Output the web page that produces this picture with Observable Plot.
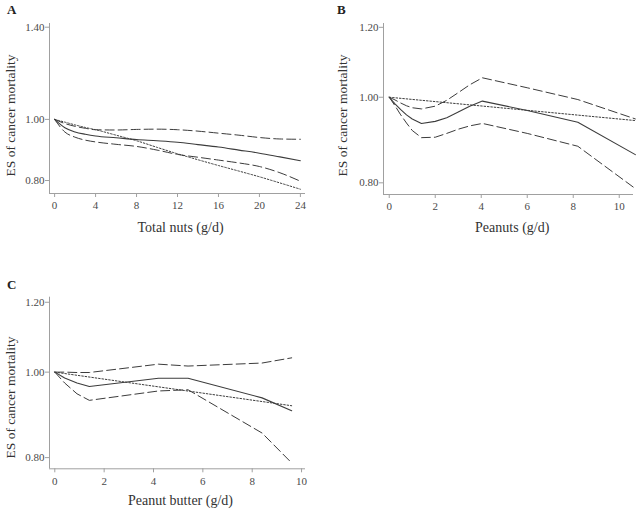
<!DOCTYPE html>
<html>
<head>
<meta charset="utf-8">
<script src="https://cdn.jsdelivr.net/npm/d3@7"></script>
<script src="https://cdn.jsdelivr.net/npm/@observablehq/plot@0.6"></script>
<style>
  html, body { margin: 0; padding: 0; background: #fff; }
  #fig { position: relative; width: 642px; height: 514px; font-family: "Liberation Serif", "Times New Roman", serif; }
  .panel { position: absolute; }
  .tag { position: absolute; font-weight: bold; font-size: 13px; color: #222; line-height: 1; }
</style>
</head>
<body>
<div id="fig"></div>
<script>
// ---------- Panel A: Total nuts ----------
const nutsX      = [0, 1, 2, 3, 4, 6, 8, 10, 12, 14, 16, 18, 20, 22, 24];
const nutsES     = [1.000, 0.970, 0.955, 0.947, 0.941, 0.935, 0.929, 0.925, 0.920, 0.912, 0.904, 0.894, 0.884, 0.872, 0.860];
const nutsUpper  = [1.000, 0.985, 0.975, 0.968, 0.963, 0.962, 0.964, 0.965, 0.963, 0.958, 0.951, 0.944, 0.936, 0.931, 0.930];
const nutsLower  = [1.000, 0.955, 0.937, 0.927, 0.921, 0.913, 0.906, 0.894, 0.880, 0.871, 0.862, 0.853, 0.842, 0.823, 0.798];
const nutsLinear = [1.000, 0.990, 0.980, 0.971, 0.963, 0.944, 0.925, 0.903, 0.882, 0.863, 0.845, 0.828, 0.811, 0.793, 0.775];
const nutsXTicks = [0, 4, 8, 12, 16, 20, 24];
const nutsYTicks = [0.80, 1.00, 1.40];

// ---------- Panel B: Peanuts ----------
const peanutX     = [0, 0.25, 0.5, 0.75, 1, 1.4, 2, 2.5, 3, 3.5, 4.05, 6, 8.2, 10.7];
const peanutES    = [1.000, 0.983, 0.968, 0.955, 0.945, 0.934, 0.939, 0.948, 0.962, 0.977, 0.990, 0.966, 0.937, 0.861];
const peanutUpper = [1.000, 0.993, 0.985, 0.978, 0.973, 0.970, 0.977, 0.992, 1.012, 1.033, 1.052, 1.025, 0.994, 0.945];
const peanutLower = [1.000, 0.978, 0.955, 0.935, 0.917, 0.900, 0.901, 0.910, 0.920, 0.928, 0.934, 0.910, 0.880, 0.788];
const peanutLinX  = [0, 10.7];
const peanutLin   = [1.000, 0.941];
const peanutXTicks = [0, 2, 4, 6, 8, 10];
const peanutYTicks = [0.80, 1.00, 1.20];

// ---------- Panel C: Peanut butter ----------
const butterX     = [0, 0.4, 0.9, 1.4, 4.2, 5.4, 8.4, 9.6];
const butterES    = [1.000, 0.985, 0.972, 0.963, 0.984, 0.984, 0.935, 0.904];
const butterUpper = [1.000, 1.000, 0.999, 0.999, 1.021, 1.016, 1.024, 1.038];
const butterLower = [1.000, 0.972, 0.945, 0.929, 0.952, 0.955, 0.853, 0.789];
const butterLinX  = [0, 9.6];
const butterLin   = [1.000, 0.916];
const butterXTicks = [0, 2, 4, 6, 8, 10];
const butterYTicks = [0.80, 1.00, 1.20];

const labels = {
  yLabel: "ES of cancer mortality",
  A: "Total nuts (g/d)",
  B: "Peanuts (g/d)",
  C: "Peanut butter (g/d)"
};

const FONT = '"Liberation Serif", "Times New Roman", serif';
const AXIS = "#a0a0a0";
const TICKTXT = "#4a4a4a";
const LINE = "#3c3c3c";

function rows(xs, ys) { return xs.map((x, i) => ({x, y: ys[i]})); }

function panel(o) {
  const marks = [
    Plot.ruleX([o.xDomain[0]], {stroke: AXIS, strokeWidth: 1}),
    Plot.ruleY([o.yDomain[0]], {stroke: AXIS, strokeWidth: 1}),
    Plot.axisX({ticks: o.xTicks, tickFormat: d => String(d), tickSize: 4, tickPadding: 4,
      stroke: AXIS, fill: TICKTXT, fontSize: 11, label: null}),
    Plot.axisY({ticks: o.yTicks, tickFormat: () => "", tickSize: 4, stroke: AXIS, label: null}),
    Plot.text(o.yTicks, {y: d => d, frameAnchor: "left", text: d => d.toFixed(2), textAnchor: "end",
      dx: -5, fill: TICKTXT, fontSize: 11}),
    Plot.line(rows(o.lin[0], o.lin[1]), {x: "x", y: "y", stroke: LINE, strokeWidth: 1, strokeDasharray: "1.6,1.8", curve: o.curve}),
    Plot.line(rows(o.x, o.upper), {x: "x", y: "y", stroke: LINE, strokeWidth: 1, strokeDasharray: "9,4", curve: o.curve}),
    Plot.line(rows(o.x, o.lower), {x: "x", y: "y", stroke: LINE, strokeWidth: 1, strokeDasharray: "9,4", curve: o.curve}),
    Plot.line(rows(o.x, o.es), {x: "x", y: "y", stroke: LINE, strokeWidth: 1.1, curve: o.curve}),
    Plot.text([labels.yLabel], {text: d => d, frameAnchor: "left", textAnchor: "middle", rotate: -90,
      dx: o.yLabDx, dy: o.yLabDy, fontSize: 13.5, fill: "#333"}),
    Plot.text([o.xLabel], {text: d => d, frameAnchor: "bottom", textAnchor: "middle",
      dx: o.xLabDx, dy: o.xLabDy, fontSize: 14, fill: "#333"})
  ];
  const svg = Plot.plot({
    width: o.width, height: o.height,
    marginLeft: o.m[0], marginRight: o.m[1], marginTop: o.m[2], marginBottom: o.m[3],
    x: {domain: o.xDomain},
    y: {type: "log", domain: o.yDomain},
    style: {fontFamily: FONT, fontSize: "11px", background: "transparent", overflow: "visible"},
    marks
  });
  svg.classList.add("panel");
  svg.style.left = o.left + "px";
  svg.style.top = o.top + "px";
  return svg;
}

const fig = document.getElementById("fig");

fig.appendChild(panel({
  left: 0, top: 0, width: 320, height: 250, m: [49, 15, 23, 57],
  xDomain: [-0.5, 24.5], yDomain: [0.763, 1.419],
  xTicks: nutsXTicks, yTicks: nutsYTicks,
  x: nutsX, es: nutsES, upper: nutsUpper, lower: nutsLower, lin: [nutsX, nutsLinear],
  curve: "monotone-x", xLabel: labels.A,
  yLabDx: -39, yLabDy: 7, xLabDx: 3, xLabDy: 38
}));

fig.appendChild(panel({
  left: 320, top: 0, width: 322, height: 250, m: [63, 9, 23, 56],
  xDomain: [-0.25, 10.62], yDomain: [0.776, 1.212],
  xTicks: peanutXTicks, yTicks: peanutYTicks,
  x: peanutX, es: peanutES, upper: peanutUpper, lower: peanutLower, lin: [peanutLinX, peanutLin],
  curve: "linear", xLabel: labels.B,
  yLabDx: -41, yLabDy: 6.5, xLabDx: 3.7, xLabDy: 37
}));

fig.appendChild(panel({
  left: 0, top: 250, width: 320, height: 264, m: [49, 15, 46.7, 45.7],
  xDomain: [-0.215, 10.16], yDomain: [0.777, 1.216],
  xTicks: butterXTicks, yTicks: butterYTicks,
  x: butterX, es: butterES, upper: butterUpper, lower: butterLower, lin: [butterLinX, butterLin],
  curve: "linear", xLabel: labels.C,
  yLabDx: -39, yLabDy: 14.5, xLabDx: 3, xLabDy: 36.5
}));

for (const [t, l, tp] of [["A", 7, 3], ["B", 337, 3], ["C", 7, 278]]) {
  const d = document.createElement("div");
  d.className = "tag";
  d.textContent = t;
  d.style.left = l + "px";
  d.style.top = tp + "px";
  fig.appendChild(d);
}
</script>
</body>
</html>
